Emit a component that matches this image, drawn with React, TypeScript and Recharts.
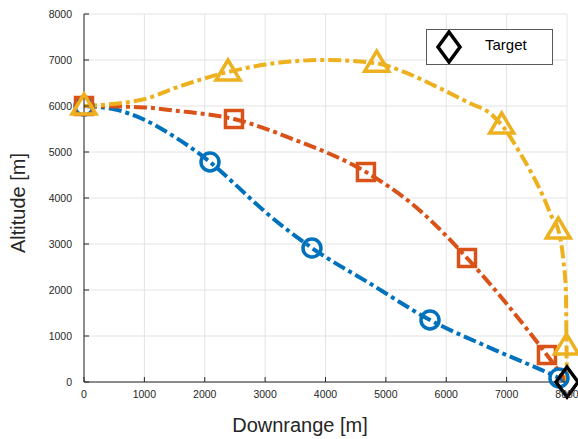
import React from "react";
import {
  ComposedChart, Line, Scatter, XAxis, YAxis, CartesianGrid,
} from "recharts";

// trajectory samples: downrange [m] / altitude [m]
const FAST_X = [0, 500, 1000, 1500, 2087, 2500, 3000, 3776, 4750, 5731, 6800, 7867, 8000];
const FAST_Y = [6000, 5930, 5700, 5330, 4783, 4300, 3700, 2913, 2130, 1348, 700, 87, 0];
const FAST_MARKS = [0, 4, 7, 9, 11];

const MID_X = [0, 1000, 1500, 2484, 3500, 4670, 5500, 6344, 7000, 7668, 8000];
const MID_Y = [6000, 5970, 5900, 5717, 5260, 4565, 3800, 2696, 1700, 587, 0];
const MID_MARKS = [0, 3, 5, 7, 9];

const HIGH_X = [0, 1000, 1500, 2385, 3000, 4000, 4848, 5288, 5841, 6393, 6725, 6918, 7222, 7415, 7608, 7746, 7856, 7939, 7983, 7992, 8000];
const HIGH_Y = [6000, 6150, 6390, 6739, 6900, 7000, 6930, 6746, 6420, 6058, 5841, 5587, 4978, 4536, 4029, 3594, 3304, 2652, 1935, 780, 0];
const HIGH_MARKS = [0, 3, 6, 11, 16, 19];

const TARGET_X = [8000];
const TARGET_Y = [0];

const TICKS = [0, 1000, 2000, 3000, 4000, 5000, 6000, 7000, 8000];

const BLUE = "#0072BD";
const RED = "#D95319";
const YELLOW = "#EDB120";
const DASH = "13 4 4 4";
const LW = 4;
const FONT = "'Liberation Sans', Arial, Helvetica, sans-serif";

const pts = (xs: number[], ys: number[]) => xs.map((x, i) => ({ x, y: ys[i] }));
const marks = (xs: number[], ys: number[], idx: number[]) => idx.map((i) => ({ x: xs[i], y: ys[i] }));

const Circle = (p: any) => (
  <circle cx={p.cx} cy={p.cy} r={9} fill="none" stroke={BLUE} strokeWidth={3.5} />
);
const Square = (p: any) => (
  <rect x={p.cx - 8.5} y={p.cy - 8.5} width={17} height={17} fill="none" stroke={RED} strokeWidth={3.5} />
);
const Triangle = (p: any) => (
  <path
    d={`M${p.cx},${p.cy - 12} L${p.cx + 12},${p.cy + 8} L${p.cx - 12},${p.cy + 8} Z`}
    fill="none" stroke={YELLOW} strokeWidth={3.5} strokeLinejoin="miter"
  />
);
const Diamond = (p: any) => (
  <path
    d={`M${p.cx},${p.cy - 15} L${p.cx + 11},${p.cy} L${p.cx},${p.cy + 15} L${p.cx - 11},${p.cy} Z`}
    fill="none" stroke="#000" strokeWidth={3.5}
  />
);

const LegendBox = () => (
  <div style={{
    position: "absolute", left: 426, top: 29, boxSizing: "border-box",
    width: 127, height: 36, border: "1px solid #5a5a5a", background: "#fff",
    display: "flex", alignItems: "center", fontFamily: FONT, fontSize: 15, color: "#000",
  }}>
    <svg width={50} height={34}>
      <path d="M22,2 L33,17 L22,32 L11,17 Z" fill="none" stroke="#000" strokeWidth={3.5} />
    </svg>
    <span style={{ marginLeft: 8, marginTop: -6 }}>Target</span>
  </div>
);

const tickStyle = { fontSize: 10.5, fill: "#262626", fontFamily: FONT };

export default function App() {
  return (
    <div style={{ position: "absolute", left: 0, top: 0, width: 578, height: 439, background: "#fff" }}>
      <ComposedChart width={578} height={439} margin={{ top: 14, right: 11, bottom: 0, left: 0 }}>
        <CartesianGrid stroke="#e3e3e3" strokeWidth={1} />
        <XAxis
          type="number" dataKey="x" domain={[0, 8000]} ticks={TICKS} height={57}
          stroke="#262626" tick={tickStyle} tickSize={-5} tickMargin={14}
          label={{
            content: () => (
              <text x={300} y={432} textAnchor="middle" fontSize={20} fill="#262626" fontFamily={FONT}>
                Downrange [m]
              </text>
            ),
          }}
        />
        <XAxis xAxisId="top" orientation="top" type="number" domain={[0, 8000]} ticks={TICKS}
          height={0} stroke="#262626" tick={false} tickSize={-5} />
        <YAxis
          type="number" dataKey="y" domain={[0, 8000]} ticks={TICKS} width={84}
          stroke="#262626" tick={tickStyle} tickSize={-5} tickMargin={17}
          label={{
            content: () => (
              <text x={25} y={203} textAnchor="middle" fontSize={20} fill="#262626" fontFamily={FONT}
                transform="rotate(-90 25 203)">
                Altitude [m]
              </text>
            ),
          }}
        />
        <YAxis yAxisId="right" orientation="right" type="number" domain={[0, 8000]} ticks={TICKS}
          width={0} stroke="#262626" tick={false} tickSize={-5} />

        <Line data={pts(FAST_X, FAST_Y)} dataKey="y" type="monotone" stroke={BLUE} strokeWidth={LW}
          strokeDasharray={DASH} dot={false} activeDot={false} isAnimationActive={false} />
        <Scatter data={marks(FAST_X, FAST_Y, FAST_MARKS)} shape={Circle} isAnimationActive={false} />

        <Line data={pts(MID_X, MID_Y)} dataKey="y" type="monotone" stroke={RED} strokeWidth={LW}
          strokeDasharray={DASH} dot={false} activeDot={false} isAnimationActive={false} />
        <Scatter data={marks(MID_X, MID_Y, MID_MARKS)} shape={Square} isAnimationActive={false} />

        <Line data={pts(HIGH_X, HIGH_Y)} dataKey="y" type="monotone" stroke={YELLOW} strokeWidth={LW}
          strokeDasharray={DASH} dot={false} activeDot={false} isAnimationActive={false} />
        <Scatter data={marks(HIGH_X, HIGH_Y, HIGH_MARKS)} shape={Triangle} isAnimationActive={false} />

        <Scatter name="Target" data={pts(TARGET_X, TARGET_Y)} shape={Diamond} isAnimationActive={false} />
      </ComposedChart>
      <LegendBox />
    </div>
  );
}
